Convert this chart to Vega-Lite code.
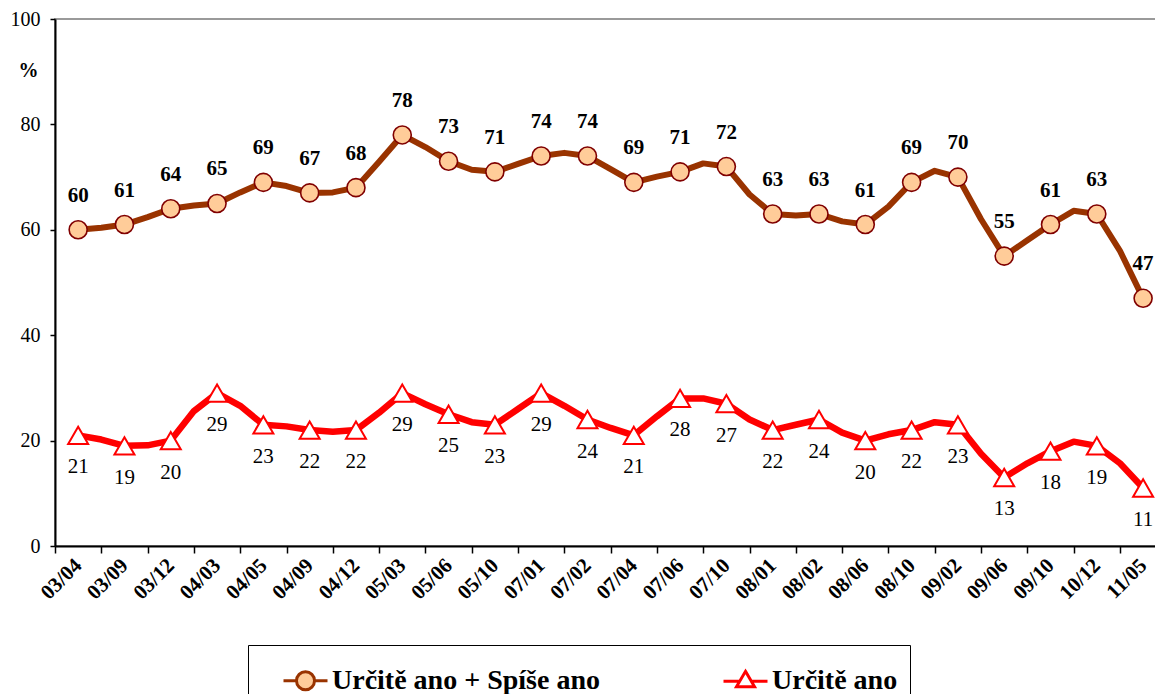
{
  "$schema": "https://vega.github.io/schema/vega-lite/v6.json",
  "autosize": {"type": "none"},
  "padding": {"left": 55, "top": 19, "right": 0, "bottom": 148},
  "width": 1102,
  "height": 527,
  "background": "white",
  "config": {
    "view": {"stroke": "#9a9a9a", "strokeWidth": 2},
    "font": "Liberation Serif",
    "legend": {
      "orient": "none", "legendX": 193, "legendY": 626, "direction": "horizontal",
      "strokeColor": "black", "padding": 12, "symbolSize": 1936, "symbolStrokeWidth": 3,
      "symbolOffset": 22, "labelOffset": 3, "columnPadding": 100,
      "labelFont": "Liberation Serif", "labelFontWeight": "bold", "labelFontSize": 28, "labelColor": "black", "labelLimit": 400
    }
  },
  "data": {"values": [
    {"s":"Určitě ano + Spíše ano","t":0.5,"v":60,"m":1},{"s":"Určitě ano + Spíše ano","t":1,"v":60.4,"m":0},
    {"s":"Určitě ano + Spíše ano","t":1.5,"v":61,"m":1},{"s":"Určitě ano + Spíše ano","t":2,"v":62.4,"m":0},
    {"s":"Určitě ano + Spíše ano","t":2.5,"v":64,"m":1},{"s":"Určitě ano + Spíše ano","t":3,"v":64.6,"m":0},
    {"s":"Určitě ano + Spíše ano","t":3.5,"v":65,"m":1},{"s":"Určitě ano + Spíše ano","t":4,"v":67.1,"m":0},
    {"s":"Určitě ano + Spíše ano","t":4.5,"v":69,"m":1},{"s":"Určitě ano + Spíše ano","t":5,"v":68.3,"m":0},
    {"s":"Určitě ano + Spíše ano","t":5.5,"v":67,"m":1},{"s":"Určitě ano + Spíše ano","t":6,"v":67.1,"m":0},
    {"s":"Určitě ano + Spíše ano","t":6.5,"v":68,"m":1},{"s":"Určitě ano + Spíše ano","t":7,"v":72.9,"m":0},
    {"s":"Určitě ano + Spíše ano","t":7.5,"v":78,"m":1},{"s":"Určitě ano + Spíše ano","t":8,"v":75.7,"m":0},
    {"s":"Určitě ano + Spíše ano","t":8.5,"v":73,"m":1},{"s":"Určitě ano + Spíše ano","t":9,"v":71.4,"m":0},
    {"s":"Určitě ano + Spíše ano","t":9.5,"v":71,"m":1},{"s":"Určitě ano + Spíše ano","t":10,"v":72.5,"m":0},
    {"s":"Určitě ano + Spíše ano","t":10.5,"v":74,"m":1},{"s":"Určitě ano + Spíše ano","t":11,"v":74.6,"m":0},
    {"s":"Určitě ano + Spíše ano","t":11.5,"v":74,"m":1},{"s":"Určitě ano + Spíše ano","t":12,"v":71.5,"m":0},
    {"s":"Určitě ano + Spíše ano","t":12.5,"v":69,"m":1},{"s":"Určitě ano + Spíše ano","t":13,"v":70.1,"m":0},
    {"s":"Určitě ano + Spíše ano","t":13.5,"v":71,"m":1},{"s":"Určitě ano + Spíše ano","t":14,"v":72.6,"m":0},
    {"s":"Určitě ano + Spíše ano","t":14.5,"v":72,"m":1},{"s":"Určitě ano + Spíše ano","t":15,"v":66.7,"m":0},
    {"s":"Určitě ano + Spíše ano","t":15.5,"v":63,"m":1},{"s":"Určitě ano + Spíše ano","t":16,"v":62.7,"m":0},
    {"s":"Určitě ano + Spíše ano","t":16.5,"v":63,"m":1},{"s":"Určitě ano + Spíše ano","t":17,"v":61.6,"m":0},
    {"s":"Určitě ano + Spíše ano","t":17.5,"v":61,"m":1},{"s":"Určitě ano + Spíše ano","t":18,"v":64.4,"m":0},
    {"s":"Určitě ano + Spíše ano","t":18.5,"v":69,"m":1},{"s":"Určitě ano + Spíše ano","t":19,"v":71.2,"m":0},
    {"s":"Určitě ano + Spíše ano","t":19.5,"v":70,"m":1},{"s":"Určitě ano + Spíše ano","t":20,"v":62,"m":0},
    {"s":"Určitě ano + Spíše ano","t":20.5,"v":55,"m":1},{"s":"Určitě ano + Spíše ano","t":21,"v":58,"m":0},
    {"s":"Určitě ano + Spíše ano","t":21.5,"v":61,"m":1},{"s":"Určitě ano + Spíše ano","t":22,"v":63.6,"m":0},
    {"s":"Určitě ano + Spíše ano","t":22.5,"v":63,"m":1},{"s":"Určitě ano + Spíše ano","t":23,"v":56,"m":0},
    {"s":"Určitě ano + Spíše ano","t":23.5,"v":47,"m":1},
    {"s":"Určitě ano","t":0.5,"v":21,"m":1},{"s":"Určitě ano","t":1,"v":20.2,"m":0},
    {"s":"Určitě ano","t":1.5,"v":19,"m":1},{"s":"Určitě ano","t":2,"v":19.1,"m":0},
    {"s":"Určitě ano","t":2.5,"v":20,"m":1},{"s":"Určitě ano","t":3,"v":25.6,"m":0},
    {"s":"Určitě ano","t":3.5,"v":29,"m":1},{"s":"Určitě ano","t":4,"v":26.6,"m":0},
    {"s":"Určitě ano","t":4.5,"v":23,"m":1},{"s":"Určitě ano","t":5,"v":22.7,"m":0},
    {"s":"Určitě ano","t":5.5,"v":22,"m":1},{"s":"Určitě ano","t":6,"v":21.7,"m":0},
    {"s":"Určitě ano","t":6.5,"v":22,"m":1},{"s":"Určitě ano","t":7,"v":25.3,"m":0},
    {"s":"Určitě ano","t":7.5,"v":29,"m":1},{"s":"Určitě ano","t":8,"v":26.9,"m":0},
    {"s":"Určitě ano","t":8.5,"v":25,"m":1},{"s":"Určitě ano","t":9,"v":23.5,"m":0},
    {"s":"Určitě ano","t":9.5,"v":23,"m":1},{"s":"Určitě ano","t":10,"v":26,"m":0},
    {"s":"Určitě ano","t":10.5,"v":29,"m":1},{"s":"Určitě ano","t":11,"v":26.6,"m":0},
    {"s":"Určitě ano","t":11.5,"v":24,"m":1},{"s":"Určitě ano","t":12,"v":22.4,"m":0},
    {"s":"Určitě ano","t":12.5,"v":21,"m":1},{"s":"Určitě ano","t":13,"v":24.6,"m":0},
    {"s":"Určitě ano","t":13.5,"v":28,"m":1},{"s":"Určitě ano","t":14,"v":28,"m":0},
    {"s":"Určitě ano","t":14.5,"v":27,"m":1},{"s":"Určitě ano","t":15,"v":24,"m":0},
    {"s":"Určitě ano","t":15.5,"v":22,"m":1},{"s":"Určitě ano","t":16,"v":23,"m":0},
    {"s":"Určitě ano","t":16.5,"v":24,"m":1},{"s":"Určitě ano","t":17,"v":21.5,"m":0},
    {"s":"Určitě ano","t":17.5,"v":20,"m":1},{"s":"Určitě ano","t":18,"v":21.2,"m":0},
    {"s":"Určitě ano","t":18.5,"v":22,"m":1},{"s":"Určitě ano","t":19,"v":23.5,"m":0},
    {"s":"Určitě ano","t":19.5,"v":23,"m":1},{"s":"Určitě ano","t":20,"v":17.5,"m":0},
    {"s":"Určitě ano","t":20.5,"v":13,"m":1},{"s":"Určitě ano","t":21,"v":15.7,"m":0},
    {"s":"Určitě ano","t":21.5,"v":18,"m":1},{"s":"Určitě ano","t":22,"v":19.8,"m":0},
    {"s":"Určitě ano","t":22.5,"v":19,"m":1},{"s":"Určitě ano","t":23,"v":15.7,"m":0},
    {"s":"Určitě ano","t":23.5,"v":11,"m":1}
  ]},
  "encoding": {
    "x": {
      "field": "t", "type": "quantitative",
      "scale": {"domain": [0, 23.8], "nice": false, "zero": false},
      "axis": {
        "values": [0,0.5,1,1.5,2,2.5,3,3.5,4,4.5,5,5.5,6,6.5,7,7.5,8,8.5,9,9.5,10,10.5,11,11.5,12,12.5,13,13.5,14,14.5,15,15.5,16,16.5,17,17.5,18,18.5,19,19.5,20,20.5,21,21.5,22,22.5,23,23.5],
        "grid": false, "title": null,
        "domainColor": "black", "domainWidth": 2,
        "tickColor": {"condition": {"test": "datum.value % 1 === 0", "value": "black"}, "value": "transparent"},
        "tickSize": 7, "tickWidth": 1.5,
        "labelExpr": "datum.value % 1 === 0 ? '' : ['03/04','03/09','03/12','04/03','04/05','04/09','04/12','05/03','05/06','05/10','07/01','07/02','07/04','07/06','07/10','08/01','08/02','08/06','08/10','09/02','09/06','09/10','10/12','11/05'][floor(datum.value)]",
        "labelAngle": -45, "labelAlign": "right", "labelBaseline": "middle",
        "labelPadding": 9, "labelOverlap": false, "labelFlush": false,
        "labelFont": "Liberation Serif", "labelFontWeight": "bold", "labelFontSize": 21, "labelColor": "black"
      }
    },
    "y": {
      "field": "v", "type": "quantitative",
      "scale": {"domain": [0, 100], "nice": false},
      "axis": {
        "values": [0, 20, 40, 60, 80, 100], "grid": false,
        "domainColor": "black", "domainWidth": 2,
        "tickColor": "black", "tickSize": 5, "tickWidth": 1.5,
        "labelPadding": 10, "labelFont": "Liberation Serif", "labelFontSize": 20, "labelColor": "black",
        "title": "%", "titleAngle": 0, "titleX": -27, "titleY": 51,
        "titleFont": "Liberation Serif", "titleFontSize": 20, "titleFontWeight": "bold",
        "titleAlign": "center", "titleBaseline": "middle", "titleColor": "black"
      }
    }
  },
  "layer": [
    {
      "transform": [{"filter": "datum.s === 'Určitě ano + Spíše ano'"}],
      "mark": {"type": "line", "strokeJoin": "round", "strokeCap": "round", "color": "#993300", "strokeWidth": 6}
    },
    {
      "transform": [{"filter": "datum.s === 'Určitě ano'"}],
      "mark": {"type": "line", "strokeJoin": "round", "strokeCap": "round", "color": "#FF0000", "strokeWidth": 6.5}
    },
    {
      "transform": [{"filter": "datum.m === 1 && datum.s === 'Určitě ano + Spíše ano'"}],
      "mark": {"type": "point", "shape": "circle", "filled": true, "fill": "#FFCC99", "stroke": "#800000", "opacity": 1, "strokeWidth": 1.6, "size": 324}
    },
    {
      "transform": [{"filter": "datum.m === 1 && datum.s === 'Určitě ano'"}],
      "mark": {"type": "point", "shape": "triangle-up", "filled": true, "fill": "#FFFFFF", "stroke": "#FF0000", "opacity": 1, "strokeWidth": 2, "size": 400}
    },
    {
      "transform": [{"filter": "datum.m === 2"}],
      "mark": {"type": "point", "filled": false, "opacity": 1},
      "encoding": {
        "shape": {
          "field": "s", "type": "nominal",
          "scale": {"domain": ["Určitě ano + Spíše ano", "Určitě ano"], "range": ["M-1,0H-0.41M0.41,0H1M0.41,0A0.41,0.41,0,1,1,-0.41,0A0.41,0.41,0,1,1,0.41,0Z", "M-1,0H-0.26M0.26,0H1M0,-0.45L0.41,0.25L-0.41,0.25Z"]},
          "legend": {"title": null, "labelFont": "Liberation Serif", "labelFontWeight": "bold", "labelFontSize": 28, "symbolOpacity": 1}
        },
        "fill": {"field": "s", "type": "nominal", "scale": {"domain": ["Určitě ano + Spíše ano", "Určitě ano"], "range": ["#FFCC99", "#FFFFFF"]}, "legend": {"title": null, "labelFont": "Liberation Serif", "labelFontWeight": "bold", "labelFontSize": 28, "symbolOpacity": 1}},
        "stroke": {"field": "s", "type": "nominal", "scale": {"domain": ["Určitě ano + Spíše ano", "Určitě ano"], "range": ["#993300", "#FF0000"]}, "legend": {"title": null, "labelFont": "Liberation Serif", "labelFontWeight": "bold", "labelFontSize": 28, "symbolOpacity": 1}}
      }
    },
    {
      "transform": [{"filter": "datum.m === 1 && datum.s === 'Určitě ano + Spíše ano'"}],
      "mark": {"type": "text", "dy": -34, "font": "Liberation Serif", "fontSize": 21, "fontWeight": "bold", "color": "black"},
      "encoding": {"text": {"field": "v", "type": "quantitative"}}
    },
    {
      "transform": [{"filter": "datum.m === 1 && datum.s === 'Určitě ano'"}],
      "mark": {"type": "text", "dy": 32, "font": "Liberation Serif", "fontSize": 21, "color": "black"},
      "encoding": {"text": {"field": "v", "type": "quantitative"}}
    }
  ]
}
